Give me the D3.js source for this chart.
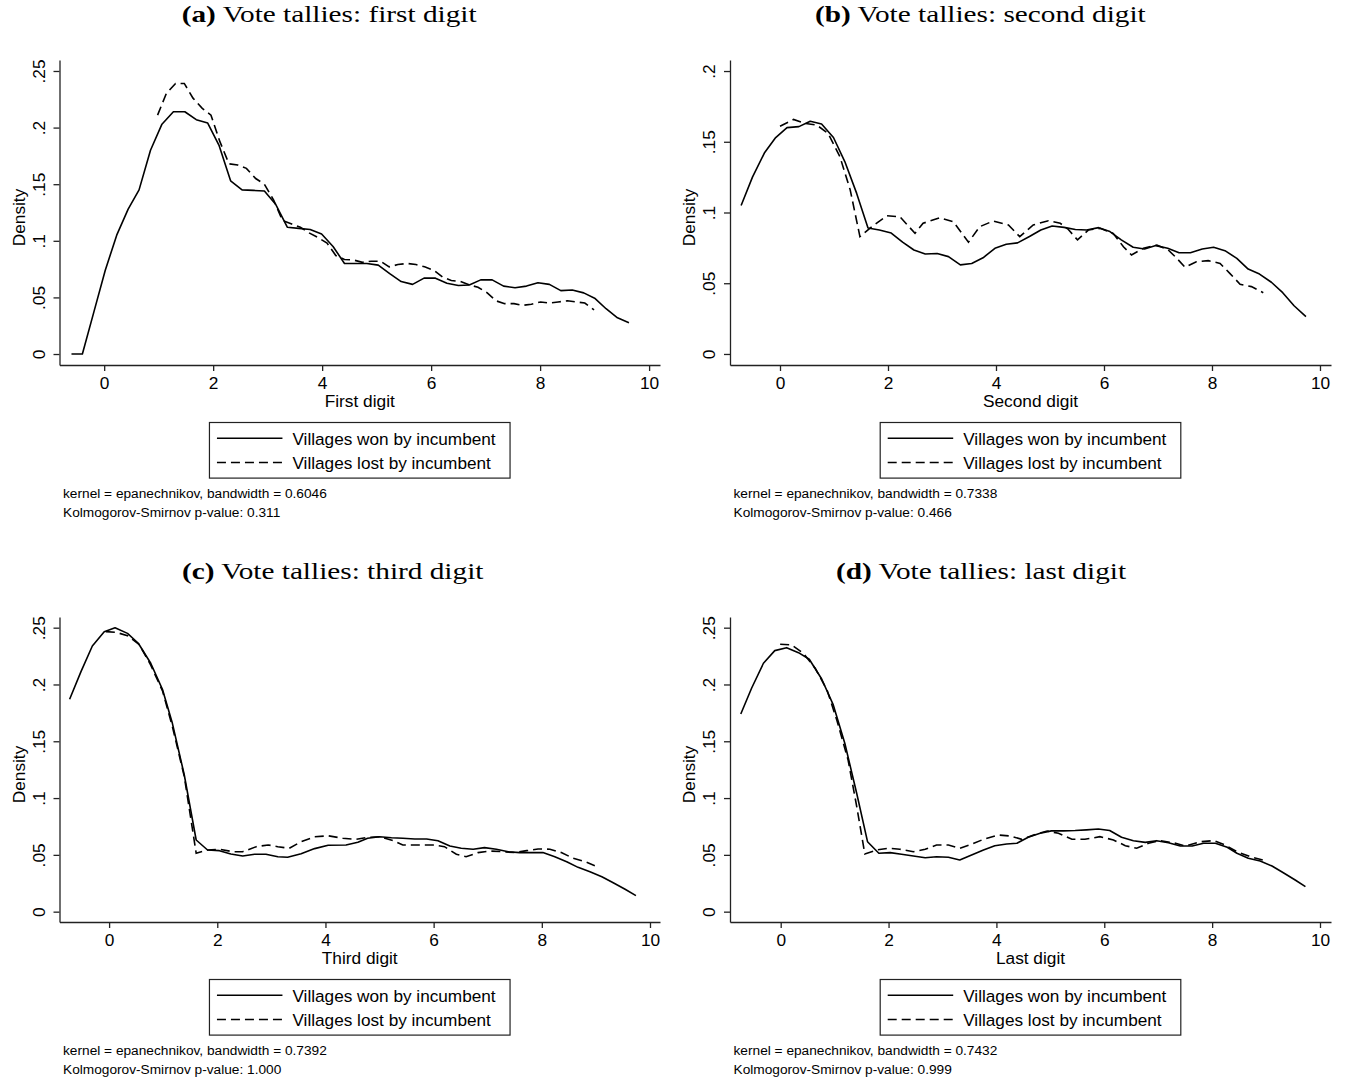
<!DOCTYPE html>
<html>
<head>
<meta charset="utf-8">
<script src="https://cdn.jsdelivr.net/npm/d3@7/dist/d3.min.js"></script>
<style>
  body { margin: 0; background: #fff; }
  svg { display: block; }
  text { font-family: "Liberation Sans", Arial, sans-serif; fill: #000; }
</style>
</head>
<body>
<div id="chart"></div>
<script>
// ---- data: [digit, density] ----
var aWon = [[-0.60,0],[-0.40,0],[-0.19,0.037],[0.02,0.074],[0.23,0.105],[0.44,0.128],[0.64,0.145],[0.85,0.180],
  [1.06,0.203],[1.27,0.214],[1.48,0.214],[1.69,0.207],[1.90,0.204],[2.11,0.184],[2.32,0.153],[2.53,0.145],
  [2.74,0.1445],[2.94,0.144],[3.15,0.132],[3.36,0.112],[3.57,0.111],[3.78,0.110],[3.99,0.106],[4.20,0.095],
  [4.41,0.080],[4.61,0.080],[4.82,0.080],[5.03,0.0785],[5.24,0.071],[5.45,0.064],[5.66,0.0615],[5.87,0.067],
  [6.08,0.067],[6.29,0.0625],[6.50,0.0605],[6.70,0.061],[6.91,0.0655],[7.12,0.0655],[7.33,0.060],[7.54,0.0585],
  [7.75,0.060],[7.96,0.063],[8.17,0.0615],[8.38,0.056],[8.59,0.0565],[8.80,0.054],[9.01,0.049],[9.21,0.040],
  [9.42,0.032],[9.63,0.0276]];
var aLost = [[0.98,0.211],[1.14,0.230],[1.31,0.239],[1.47,0.239],[1.63,0.226],[1.80,0.217],[1.96,0.211],[2.12,0.188],
  [2.29,0.168],[2.45,0.167],[2.61,0.164],[2.78,0.155],[2.94,0.150],[3.11,0.136],[3.27,0.118],[3.43,0.115],
  [3.60,0.112],[3.76,0.107],[3.92,0.103],[4.09,0.098],[4.25,0.087],[4.41,0.0835],[4.58,0.083],[4.74,0.081],
  [4.90,0.082],[5.07,0.082],[5.23,0.077],[5.39,0.079],[5.56,0.080],[5.72,0.079],[5.88,0.077],[6.05,0.074],
  [6.21,0.068],[6.37,0.065],[6.54,0.064],[6.70,0.061],[6.86,0.059],[7.03,0.054],[7.19,0.047],[7.35,0.0445],
  [7.52,0.0445],[7.68,0.043],[7.84,0.044],[8.01,0.046],[8.17,0.045],[8.33,0.046],[8.50,0.047],[8.66,0.046],
  [8.82,0.045],[8.99,0.039]];

var bWon = [[-0.72,0.105],[-0.51,0.125],[-0.29,0.142],[-0.08,0.153],[0.13,0.160],[0.35,0.1607],[0.56,0.1645],
  [0.77,0.1625],[0.99,0.153],[1.20,0.136],[1.42,0.1135],[1.63,0.089],[1.84,0.0876],[2.06,0.0855],[2.27,0.079],
  [2.48,0.0735],[2.69,0.0707],[2.91,0.071],[3.12,0.0688],[3.34,0.063],[3.55,0.064],[3.76,0.068],[3.98,0.0747],
  [4.19,0.0775],[4.40,0.0785],[4.62,0.083],[4.83,0.0876],[5.04,0.0905],[5.26,0.0895],[5.47,0.088],[5.68,0.0876],
  [5.90,0.0893],[6.11,0.0865],[6.32,0.0806],[6.54,0.0754],[6.75,0.0742],[6.96,0.0766],[7.18,0.0747],[7.39,0.0716],
  [7.60,0.0716],[7.82,0.0742],[8.03,0.0754],[8.24,0.073],[8.46,0.0676],[8.67,0.060],[8.88,0.0565],[9.10,0.0507],
  [9.31,0.0433],[9.52,0.0341],[9.74,0.0264]];
var bLost = [[0.00,0.161],[0.25,0.1658],[0.46,0.163],[0.68,0.1618],[0.89,0.156],[1.11,0.1394],[1.30,0.116],
  [1.48,0.083],[1.70,0.090],[1.98,0.0977],[2.22,0.097],[2.50,0.0853],[2.65,0.0924],[2.96,0.0963],[3.21,0.0935],
  [3.49,0.079],[3.70,0.090],[3.95,0.094],[4.23,0.0912],[4.44,0.0829],[4.69,0.0912],[4.97,0.0942],[5.19,0.0924],
  [5.34,0.088],[5.51,0.0806],[5.71,0.0876],[5.93,0.0888],[6.17,0.0853],[6.36,0.0758],[6.51,0.070],[6.73,0.0747],
  [6.98,0.077],[7.19,0.0735],[7.35,0.0676],[7.50,0.0613],[7.71,0.0652],[7.93,0.066],[8.15,0.064],[8.33,0.057],
  [8.52,0.0493],[8.73,0.0476],[8.95,0.0433]];

var cWon = [[-0.73,0.187],[-0.52,0.2113],[-0.31,0.2339],[-0.09,0.2465],[0.11,0.250],[0.34,0.245],[0.54,0.2363],
  [0.77,0.2187],[0.99,0.1952],[1.17,0.1658],[1.39,0.1203],[1.61,0.0631],[1.82,0.0543],[2.04,0.0537],[2.25,0.0508],
  [2.47,0.049],[2.69,0.0505],[2.90,0.0505],[3.12,0.0484],[3.30,0.0479],[3.55,0.051],[3.80,0.0555],[4.05,0.0585],
  [4.38,0.0587],[4.60,0.0611],[4.78,0.0646],[5.00,0.066],[5.22,0.0651],[5.43,0.0646],[5.65,0.064],[5.87,0.064],
  [6.08,0.0625],[6.30,0.0578],[6.51,0.0558],[6.73,0.055],[6.94,0.0564],[7.16,0.055],[7.38,0.0528],[7.59,0.052],
  [7.81,0.052],[8.02,0.052],[8.24,0.0484],[8.46,0.044],[8.67,0.039],[8.89,0.0352],[9.11,0.0308],[9.32,0.0255],
  [9.54,0.0197],[9.74,0.0141]];
var cLost = [[-0.06,0.2465],[0.12,0.246],[0.34,0.243],[0.56,0.235],[0.77,0.217],[0.99,0.194],[1.17,0.163],
  [1.39,0.119],[1.61,0.0514],[1.82,0.0543],[2.04,0.055],[2.28,0.0528],[2.47,0.0528],[2.72,0.0572],[2.94,0.0587],
  [3.12,0.0572],[3.33,0.0558],[3.55,0.0616],[3.80,0.066],[4.05,0.0668],[4.32,0.0646],[4.57,0.0637],[4.78,0.0654],
  [5.00,0.066],[5.25,0.0625],[5.43,0.0587],[5.71,0.0587],[5.99,0.0587],[6.20,0.0572],[6.42,0.0505],[6.60,0.0484],
  [6.82,0.052],[7.04,0.0534],[7.28,0.0528],[7.50,0.052],[7.72,0.0537],[7.93,0.0552],[8.15,0.055],[8.36,0.052],
  [8.58,0.047],[8.80,0.044],[8.98,0.0405]];

var dWon = [[-0.74,0.174],[-0.54,0.1967],[-0.32,0.2187],[-0.11,0.2298],[0.11,0.2324],[0.33,0.228],[0.53,0.2222],
  [0.76,0.2048],[0.975,0.182],[1.19,0.148],[1.41,0.104],[1.61,0.0616],[1.82,0.0514],[2.03,0.052],[2.24,0.0505],
  [2.46,0.049],[2.68,0.0475],[2.89,0.0484],[3.11,0.0479],[3.32,0.0455],[3.54,0.0499],[3.76,0.0543],[3.97,0.058],
  [4.19,0.0596],[4.38,0.0602],[4.59,0.0655],[4.81,0.069],[5.02,0.0711],[5.24,0.0711],[5.46,0.0714],[5.67,0.072],
  [5.89,0.0728],[6.10,0.0714],[6.32,0.0655],[6.54,0.0625],[6.76,0.061],[6.97,0.0625],[7.19,0.0607],[7.41,0.0578],
  [7.63,0.0578],[7.84,0.0602],[8.06,0.0602],[8.28,0.0567],[8.46,0.0514],[8.67,0.047],[8.89,0.0446],[9.11,0.0402],
  [9.32,0.0343],[9.54,0.0279],[9.73,0.022]];
var dLost = [[-0.01,0.2354],[0.20,0.2348],[0.42,0.2275],[0.64,0.2143],[0.86,0.195],[1.04,0.1688],[1.25,0.1335],
  [1.41,0.0925],[1.56,0.0508],[1.78,0.0543],[2.00,0.0558],[2.21,0.055],[2.46,0.0528],[2.68,0.055],[2.89,0.0587],
  [3.11,0.0587],[3.32,0.0558],[3.54,0.0593],[3.76,0.0637],[4.03,0.0675],[4.25,0.0666],[4.47,0.0637],[4.69,0.0675],
  [4.94,0.071],[5.15,0.069],[5.40,0.0637],[5.64,0.0637],[5.92,0.066],[6.17,0.0631],[6.39,0.0581],[6.60,0.0558],
  [6.82,0.0602],[7.03,0.0625],[7.28,0.0607],[7.50,0.0578],[7.78,0.0616],[8.03,0.0625],[8.24,0.0587],[8.46,0.0528],
  [8.71,0.0484],[8.98,0.0449]];

// ticks and labels
var xTicks = [0, 2, 4, 6, 8, 10];
var yTicksA = [0, 0.05, 0.1, 0.15, 0.2, 0.25];
var yTicksB = [0, 0.05, 0.1, 0.15, 0.2];
var titles = ["Vote tallies: first digit", "Vote tallies: second digit", "Vote tallies: third digit", "Vote tallies: last digit"];
var xLabels = ["First digit", "Second digit", "Third digit", "Last digit"];
var bandwidths = ["0.6046", "0.7338", "0.7392", "0.7432"];
var ksValues = ["0.311", "0.466", "1.000", "0.999"];
var seriesNames = ["Villages won by incumbent", "Villages lost by incumbent"];

// Set up svg
var svgWidth = 1346, svgHeight = 1080;
var svg = d3.select("#chart").append("svg")
  .attr("width", svgWidth)
  .attr("height", svgHeight);

var fmtTick = function(d) { return d === 0 ? "0" : d3.format(".2~f")(d).replace(/^0/, ""); };

// one entry per sub-graph; box = plot region in pixels
var panels = [
  { tag: "(a)", won: aWon, lost: aLost, yTicks: yTicksA, xDom: [-0.82, 10.2], yDom: [-0.0097, 0.2597],
    box: { x0: 59.5, x1: 660, y0: 60, y1: 365 }, titleX: 181.7, titleY: 21.7 },
  { tag: "(b)", won: bWon, lost: bLost, yTicks: yTicksB, xDom: [-0.926, 10.204], yDom: [-0.0078, 0.2078],
    box: { x0: 730, x1: 1331, y0: 60, y1: 365 }, titleX: 815, titleY: 21.7 },
  { tag: "(c)", won: cWon, lost: cLost, yTicks: yTicksA, xDom: [-0.917, 10.185], yDom: [-0.0091, 0.2594],
    box: { x0: 59.5, x1: 660, y0: 617, y1: 922 }, titleX: 182, titleY: 578.7 },
  { tag: "(d)", won: dWon, lost: dLost, yTicks: yTicksA, xDom: [-0.94, 10.204], yDom: [-0.0091, 0.2594],
    box: { x0: 730, x1: 1331, y0: 617, y1: 922 }, titleX: 836, titleY: 578.7 }
];

panels.forEach(function(p, i) {
  var b = p.box;
  var g = svg.append("g");

  var x = d3.scaleLinear().domain(p.xDom).range([b.x0, b.x1]);
  var y = d3.scaleLinear().domain(p.yDom).range([b.y1, b.y0]);

  // title (serif, slightly wide like Palatino)
  var t = g.append("text")
    .attr("transform", "translate(" + p.titleX + "," + p.titleY + ") scale(1.22,1)")
    .style("font-family", "'Liberation Serif', 'Times New Roman', serif")
    .style("font-size", "24px");
  t.append("tspan").style("font-weight", "bold").text(p.tag);
  t.append("tspan").text(" " + titles[i]);

  // axes
  var xAxis = g.append("g")
    .attr("transform", "translate(0," + b.y1 + ")")
    .call(d3.axisBottom(x).tickValues(xTicks).tickSize(6).tickPadding(6).tickSizeOuter(0));
  var yAxis = g.append("g")
    .attr("transform", "translate(" + b.x0 + ",0)")
    .call(d3.axisLeft(y).tickValues(p.yTicks).tickFormat(fmtTick).tickSize(6).tickSizeOuter(0));

  [xAxis, yAxis].forEach(function(ax) {
    ax.select(".domain").attr("stroke", "#222").attr("stroke-width", 1.3);
    ax.selectAll(".tick line").attr("stroke", "#222").attr("stroke-width", 1.3);
    ax.selectAll(".tick text").attr("fill", "#000").style("font-size", "17.3px")
      .style("font-family", "'Liberation Sans', Arial, sans-serif");
  });
  yAxis.selectAll(".tick text")
    .attr("x", null)
    .attr("dy", "0.35em")
    .attr("transform", "translate(-21,0) rotate(-90)")
    .attr("text-anchor", "middle");

  // axis titles
  g.append("text")
    .attr("x", (b.x0 + b.x1) / 2)
    .attr("y", b.y1 + 42)
    .attr("text-anchor", "middle")
    .style("font-size", "17.3px")
    .text(xLabels[i]);
  g.append("text")
    .attr("transform", "translate(" + (b.x0 - 35) + "," + ((b.y0 + b.y1) / 2 + 5) + ") rotate(-90)")
    .attr("text-anchor", "middle")
    .style("font-size", "17.3px")
    .text("Density");

  // density lines
  var line = d3.line().x(function(d) { return x(d[0]); }).y(function(d) { return y(d[1]); });
  g.append("path").datum(p.won)
    .attr("d", line).attr("fill", "none").attr("stroke", "#000").attr("stroke-width", 1.6)
    .attr("stroke-linejoin", "round");
  g.append("path").datum(p.lost)
    .attr("d", line).attr("fill", "none").attr("stroke", "#000").attr("stroke-width", 1.6)
    .attr("stroke-dasharray", "9,5");

  // legend
  var lw = 300.6, lh = 55.6;
  var lx = (b.x0 + b.x1) / 2 - lw / 2, ly = b.y1 + 57.5;
  var leg = g.append("g").attr("transform", "translate(" + lx + "," + ly + ")");
  leg.append("rect").attr("width", lw).attr("height", lh)
    .attr("fill", "#fff").attr("stroke", "#222").attr("stroke-width", 1.2);
  seriesNames.forEach(function(name, k) {
    var yy = k === 0 ? 15.8 : 40;
    leg.append("line").attr("x1", 7.5).attr("x2", 73).attr("y1", yy).attr("y2", yy)
      .attr("stroke", "#000").attr("stroke-width", 1.6)
      .attr("stroke-dasharray", k === 0 ? null : "9,5");
    leg.append("text").attr("x", 83).attr("y", yy + 6.2)
      .style("font-size", "17.2px").text(name);
  });

  // notes
  g.append("text").attr("x", b.x0 + 3.5).attr("y", b.y1 + 132.5)
    .style("font-size", "13.7px")
    .text("kernel = epanechnikov, bandwidth = " + bandwidths[i]);
  g.append("text").attr("x", b.x0 + 3.5).attr("y", b.y1 + 152.3)
    .style("font-size", "13.7px")
    .text("Kolmogorov-Smirnov p-value: " + ksValues[i]);
});
</script>
</body>
</html>
